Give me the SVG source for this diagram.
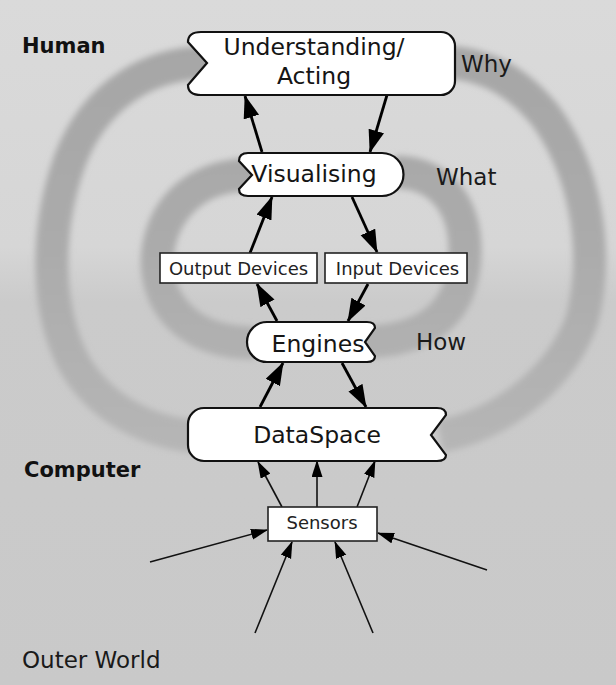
<svg xmlns="http://www.w3.org/2000/svg" width="616" height="685" viewBox="0 0 616 685">
  <defs>
    <linearGradient id="bg" x1="0" y1="0" x2="0" y2="685" gradientUnits="userSpaceOnUse">
      <stop offset="0" stop-color="#dadada"/>
      <stop offset="0.36" stop-color="#d6d6d6"/>
      <stop offset="0.44" stop-color="#cbcbcb"/>
      <stop offset="1" stop-color="#c9c9c9"/>
    </linearGradient>
    <linearGradient id="bandc" x1="0" y1="40" x2="0" y2="450" gradientUnits="userSpaceOnUse">
      <stop offset="0" stop-color="#a6a6a6"/>
      <stop offset="0.5" stop-color="#ababab"/>
      <stop offset="1" stop-color="#b6b6b6"/>
    </linearGradient>
    <filter id="soft" x="-10%" y="-10%" width="120%" height="120%">
      <feGaussianBlur stdDeviation="3.2"/>
    </filter>
    <marker id="big" markerUnits="userSpaceOnUse" markerWidth="24" markerHeight="18" refX="22" refY="8" orient="auto">
      <path d="M0,0 L23,8 L0,16 Z" fill="#000"/>
    </marker>
    <marker id="small" markerUnits="userSpaceOnUse" markerWidth="18" markerHeight="12" refX="16" refY="5.5" orient="auto">
      <path d="M0,0 L17,5.5 L0,11 Z" fill="#000"/>
    </marker>
    <style>
      .band { fill: none; stroke: url(#bandc); stroke-width: 33; stroke-linecap: butt; }
      .node { fill: #ffffff; stroke: #111111; stroke-width: 2.2; }
      .box { fill: #ffffff; stroke: #222222; stroke-width: 1.6; }
      .lbl { font-family: "DejaVu Sans", "Liberation Sans", sans-serif; font-size: 23.5px; fill: #151515; text-anchor: middle; }
      .sm { font-family: "DejaVu Sans", "Liberation Sans", sans-serif; font-size: 18px; fill: #222222; text-anchor: middle; }
      .side { font-family: "DejaVu Sans", "Liberation Sans", sans-serif; font-size: 23px; fill: #1a1a1a; }
      .head { font-family: "DejaVu Sans", "Liberation Sans", sans-serif; font-size: 21px; font-weight: bold; fill: #111111; }
      .thick { fill: none; stroke: #000; stroke-width: 2.8; marker-end: url(#big); }
      .thin { fill: none; stroke: #111; stroke-width: 1.6; marker-end: url(#small); }
    </style>
  </defs>

  <rect x="0" y="0" width="616" height="685" fill="url(#bg)"/>

  <g id="spiral" filter="url(#soft)">
    <path class="band" d="M 215,63 C 150,60 95,95 70,160 C 45,230 45,310 75,365 C 105,415 160,437 210,437"/>
    <path class="band" d="M 440,436 C 500,425 560,380 582,320 C 600,250 585,170 545,115 C 515,78 480,62 440,62"/>
    <path class="band" d="M 258,175 C 200,172 165,205 158,250 C 152,300 185,343 255,343"/>
    <path class="band" d="M 395,172 C 440,172 465,205 465,250 C 465,310 430,342 360,342"/>
  </g>

  <g id="labels">
    <text class="head" x="22" y="53">Human</text>
    <text class="head" x="24" y="477">Computer</text>
    <text class="side" x="22" y="668">Outer World</text>
    <text class="side" x="461" y="72">Why</text>
    <text class="side" x="436" y="185">What</text>
    <text class="side" x="416" y="350">How</text>
  </g>

  <g id="connectors">
    <path class="thick" d="M 262,152 L 245,96"/>
    <path class="thick" d="M 387,95 L 370,152"/>
    <path class="thick" d="M 250,253 L 272,197"/>
    <path class="thick" d="M 352,197 L 377,252"/>
    <path class="thick" d="M 277,321 L 257,284"/>
    <path class="thick" d="M 368,284 L 348,321"/>
    <path class="thick" d="M 260,407 L 283,363"/>
    <path class="thick" d="M 342,363 L 366,407"/>
    <path class="thin" d="M 282,507 L 258,462"/>
    <path class="thin" d="M 317,507 L 317,461"/>
    <path class="thin" d="M 357,507 L 375,461"/>
    <path class="thin" d="M 150,562 L 267,530"/>
    <path class="thin" d="M 255,633 L 292,542"/>
    <path class="thin" d="M 373,633 L 335,542"/>
    <path class="thin" d="M 487,570 L 378,533"/>
  </g>

  <g id="understanding">
    <path class="node" d="M 201,32 H 441 A 14,14 0 0 1 455,46 V 81 A 14,14 0 0 1 441,95 H 201 Q 188,95 188,85 L 207,63 L 188,42 Q 188,32 201,32 Z"/>
    <text class="lbl" x="314" y="55">Understanding/</text>
    <text class="lbl" x="314" y="84">Acting</text>
  </g>

  <g id="visualising">
    <path class="node" d="M 248,153 H 382 A 21.5,21.5 0 0 1 382,196 H 248 Q 239,196 239,189 L 252,175 L 239,161 Q 239,153 248,153 Z"/>
    <text class="lbl" x="314" y="182">Visualising</text>
  </g>

  <g id="output-devices">
    <rect class="box" x="160" y="253" width="157" height="30"/>
    <text class="sm" x="238.5" y="275">Output Devices</text>
  </g>

  <g id="input-devices">
    <rect class="box" x="325" y="253" width="142" height="30"/>
    <text class="sm" x="397.5" y="275">Input Devices</text>
  </g>

  <g id="engines">
    <path class="node" d="M 267,322 H 367 Q 375,322 375,328 L 365,342 L 375,356 Q 375,362 367,362 H 267 A 20,20 0 0 1 267,322 Z"/>
    <text class="lbl" x="318" y="352">Engines</text>
  </g>

  <g id="dataspace">
    <path class="node" d="M 204,408 H 437 Q 446,408 446,415 L 431,435 L 446,455 Q 446,461 437,461 H 204 A 16,16 0 0 1 188,445 V 424 A 16,16 0 0 1 204,408 Z"/>
    <text class="lbl" x="317" y="443">DataSpace</text>
  </g>

  <g id="sensors">
    <rect class="box" x="268" y="507" width="109" height="34"/>
    <text class="sm" x="322" y="529">Sensors</text>
  </g>
</svg>
